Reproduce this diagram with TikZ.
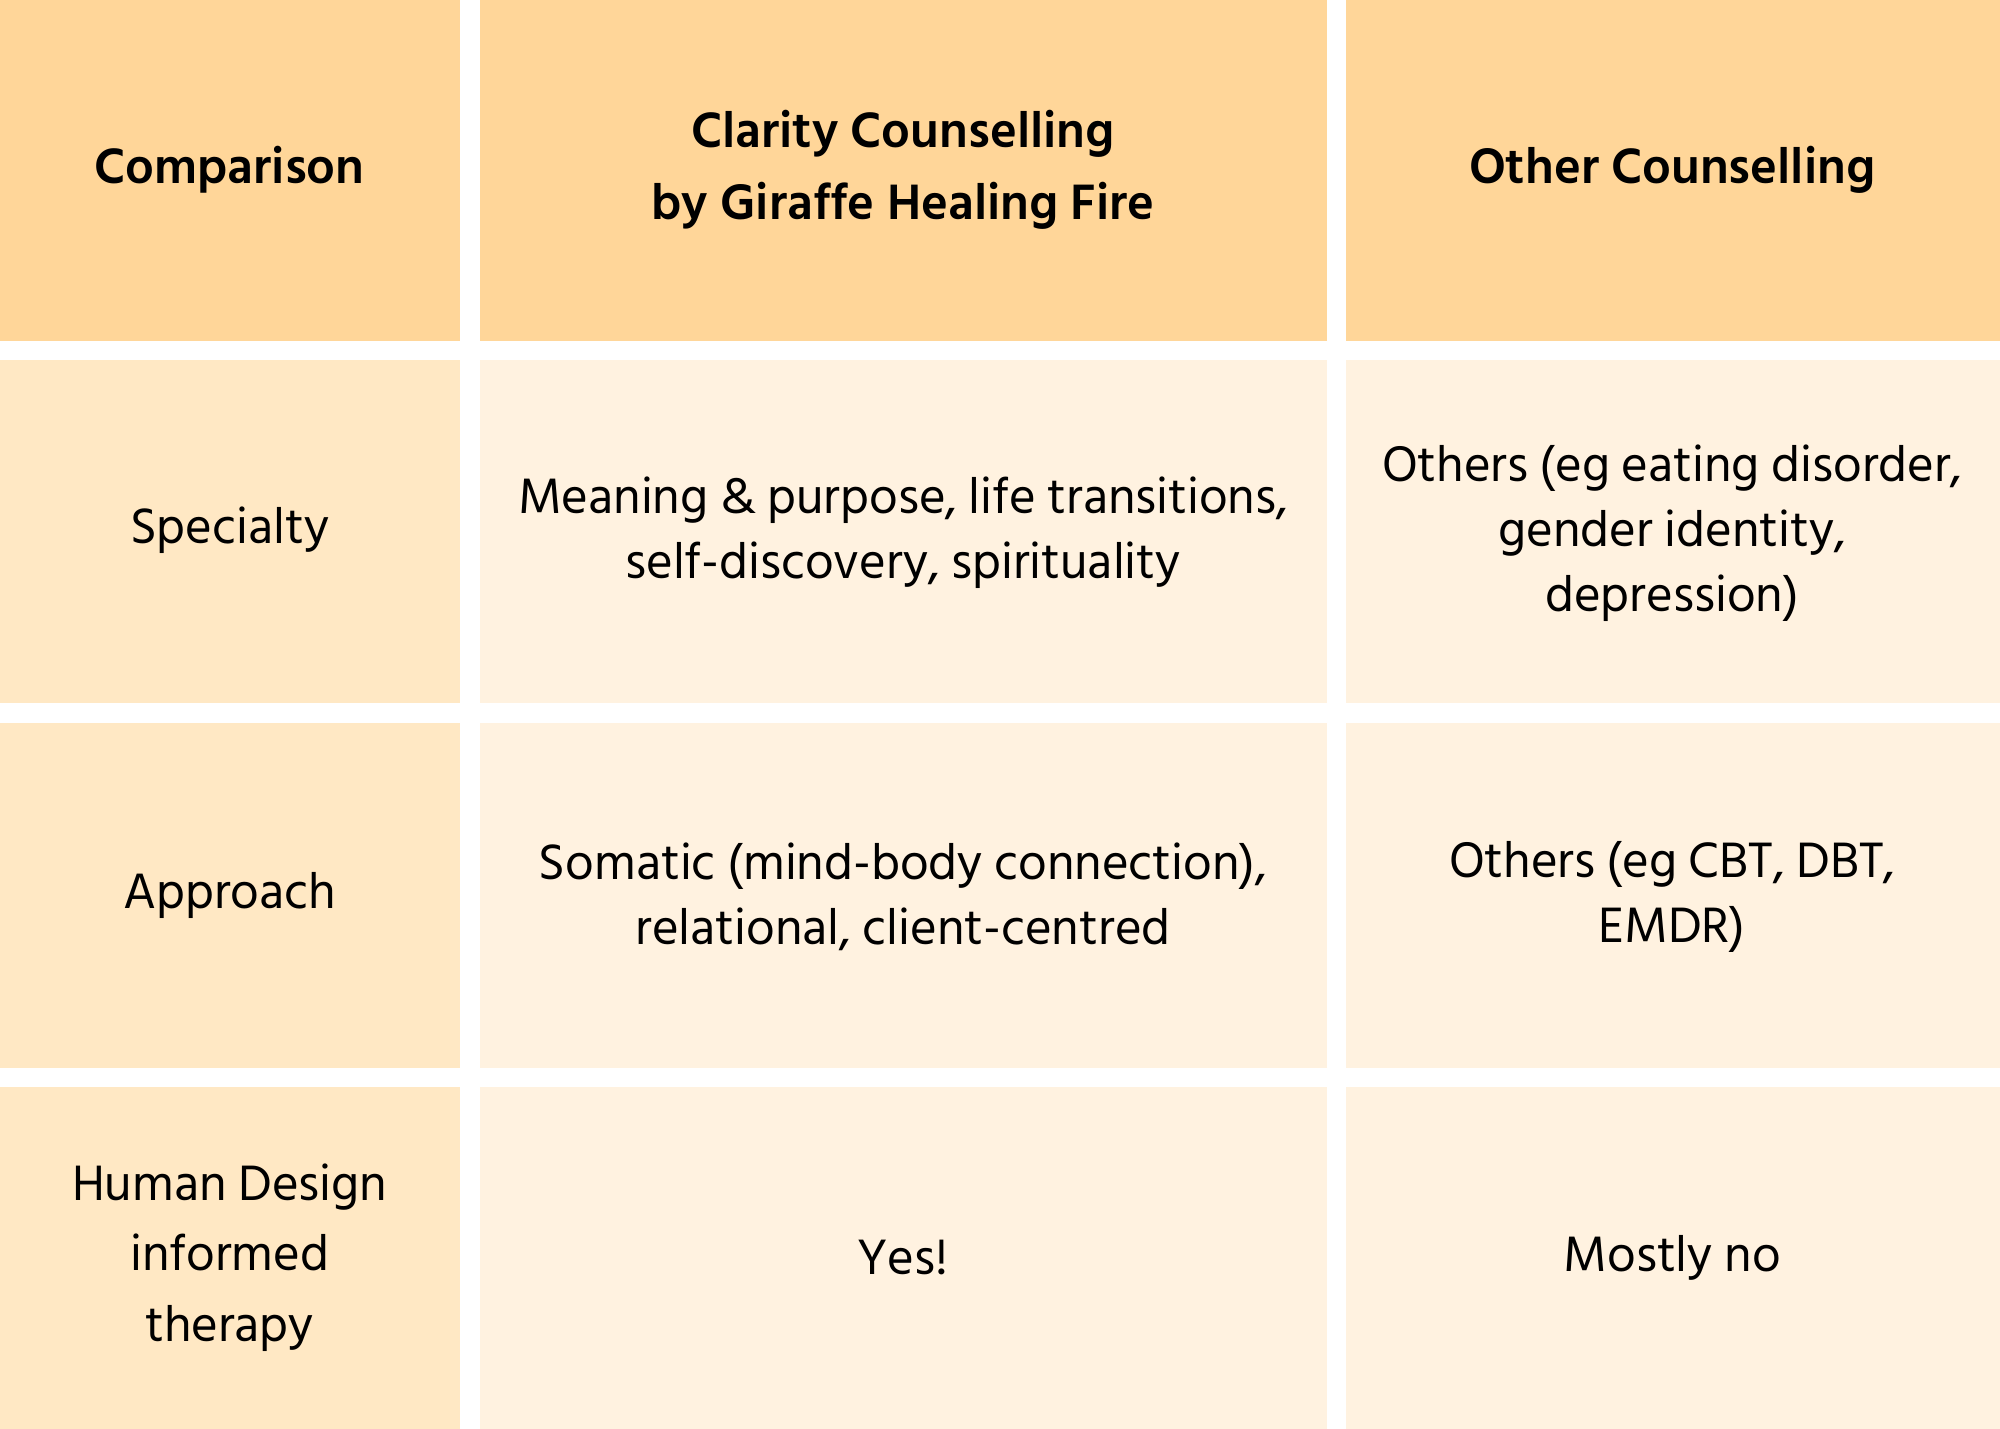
\documentclass[tikz,border=0pt]{standalone}
\usepackage{fontspec}
\setmainfont{Hind Siliguri}
\definecolor{hdr}{RGB}{255,214,153}
\definecolor{cA}{RGB}{255,232,196}
\definecolor{cB}{RGB}{255,242,224}
\tikzset{cell/.style={inner sep=0pt,outer sep=0pt},
 txt/.style={align=center,font=\fontsize{20}{25.5}\selectfont,text=black},
 htxt/.style={align=center,font=\fontsize{20}{28}\selectfont\bfseries,text=black}}
\begin{document}
\begin{tikzpicture}[x=0.5pt,y=-0.5pt]
\useasboundingbox (0,0) rectangle (1568,1120);
\fill[white] (0,0) rectangle (1568,1120);
\foreach \ya/\yb/\c/\cc in {0/267/hdr/hdr,282/551/cA/cB,567/837/cA/cB,852/1120/cA/cB}{
 \fill[\c] (0,\ya) rectangle (361,\yb);
 \fill[\cc] (376,\ya) rectangle (1040,\yb);
 \fill[\cc] (1055,\ya) rectangle (1568,\yb);
}
\node[htxt] (h1) at (180,133) {Comparison};
\node[htxt] (h2) at (708,133) {Clarity Counselling\\by Giraffe Healing Fire};
\node[htxt] (h3) at (1311,133) {Other Counselling};
\node[txt] (a1) at (180,416) {Specialty};
\node[txt] (a2) at (708,418) {Meaning \& purpose, life transitions,\\self-discovery, spirituality};
\node[txt] (a3) at (1311,418) {Others (eg eating disorder,\\gender identity,\\depression)};
\node[txt] (b1) at (180,702) {Approach};
\node[txt] (b2) at (708,703) {Somatic (mind-body connection),\\relational, client-centred};
\node[txt] (b3) at (1311,703) {Others (eg CBT, DBT,\\EMDR)};
\node[txt,font=\fontsize{20}{27.5}\selectfont] (c1) at (180,986) {Human Design\\informed\\therapy};
\node[txt] (c2) at (708,986) {Yes!};
\node[txt] (c3) at (1311,986) {Mostly no};
\end{tikzpicture}
\end{document}
